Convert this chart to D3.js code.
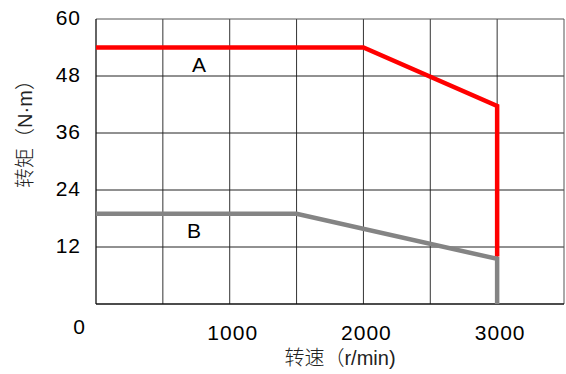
<!DOCTYPE html>
<html>
<head>
<meta charset="utf-8">
<script src="https://cdn.jsdelivr.net/npm/d3@7"></script>
<style>
  html, body { margin: 0; padding: 0; background: #fff; }
  svg { display: block; font-family: "Liberation Sans", Arial, sans-serif; }
</style>
</head>
<body>
<svg id="chart" width="566" height="374"></svg>
<script>
// speed (r/min) vs torque (N·m)
const speedA = [0, 2000, 3000, 3000]
const torqueA = [54, 54, 41.7, 10]
const speedB = [0, 1500, 3000, 3000]
const torqueB = [19, 19, 9.5, 0]
const xGrid = [500, 1000, 1500, 2000, 2500, 3000]
const yGrid = [12, 24, 36, 48]
const xTickLabels = [1000, 2000, 3000]
const yTickLabels = [12, 24, 36, 48, 60]

const svg = d3.select("#chart")
const x = d3.scaleLinear().domain([0, 3500]).range([96, 564])
const y = d3.scaleLinear().domain([0, 60]).range([304, 19])

// grid
const grid = svg.append("g")
grid.selectAll("line.v")
  .data(xGrid)
  .join("line")
  .attr("class", "v")
  .attr("x1", d => x(d)).attr("x2", d => x(d))
  .attr("y1", y(60)).attr("y2", y(0))
  .attr("stroke", "#333").attr("stroke-width", 1)
grid.selectAll("line.h")
  .data(yGrid)
  .join("line")
  .attr("class", "h")
  .attr("x1", x(0)).attr("x2", x(3500))
  .attr("y1", d => y(d)).attr("y2", d => y(d))
  .attr("stroke", "#222").attr("stroke-width", 1)

// frame
svg.append("line")
  .attr("x1", x(0)).attr("x2", x(3500)).attr("y1", y(60)).attr("y2", y(60))
  .attr("stroke", "#555")
svg.append("line")
  .attr("x1", x(3500)).attr("x2", x(3500)).attr("y1", y(60)).attr("y2", y(0))
  .attr("stroke", "#555")
svg.append("line")
  .attr("x1", x(0)).attr("x2", x(0)).attr("y1", y(60)).attr("y2", y(0))
  .attr("stroke", "#111").attr("stroke-width", 1.3)
svg.append("line")
  .attr("x1", x(0)).attr("x2", x(3500)).attr("y1", y(0)).attr("y2", y(0))
  .attr("stroke", "#111").attr("stroke-width", 1.3)

// curves
const line = d3.line().x(d => x(d[0])).y(d => y(d[1]))
svg.append("path")
  .datum(d3.zip(speedA, torqueA))
  .attr("d", line)
  .attr("fill", "none").attr("stroke", "#ff0000").attr("stroke-width", 4.5)
  .attr("stroke-linejoin", "miter")
svg.append("path")
  .datum(d3.zip(speedB, torqueB))
  .attr("d", line)
  .attr("fill", "none").attr("stroke", "#848484").attr("stroke-width", 4.5)
  .attr("stroke-linejoin", "miter")

// curve labels
svg.append("text")
  .attr("x", 199).attr("y", 72)
  .attr("text-anchor", "middle").attr("font-size", 21).attr("fill", "#000")
  .text("A")
svg.append("text")
  .attr("x", 194).attr("y", 238)
  .attr("text-anchor", "middle").attr("font-size", 21).attr("fill", "#000")
  .text("B")

// y tick labels
svg.append("g").selectAll("text")
  .data(yTickLabels)
  .join("text")
  .attr("x", 81).attr("y", d => y(d) - 1.5)
  .attr("text-anchor", "end").attr("dominant-baseline", "central")
  .attr("font-size", 21).attr("letter-spacing", 1).attr("fill", "#000")
  .text(d => d)
svg.append("text")
  .attr("x", 79).attr("y", 326)
  .attr("text-anchor", "middle").attr("dominant-baseline", "central")
  .attr("font-size", 21).attr("fill", "#000")
  .text("0")

// x tick labels
svg.append("g").selectAll("text")
  .data(xTickLabels)
  .join("text")
  .attr("x", d => x(d) + 3).attr("y", 332)
  .attr("text-anchor", "middle").attr("dominant-baseline", "central")
  .attr("font-size", 21).attr("letter-spacing", 1).attr("fill", "#000")
  .text(d => d)

// axis titles
svg.append("text")
  .attr("x", 340).attr("y", 365)
  .attr("text-anchor", "middle")
  .attr("font-family", "'Liberation Sans', 'Noto Sans CJK SC', sans-serif")
  .attr("font-weight", 300)
  .attr("font-size", 20).attr("fill", "#222")
  .text("转速（r/min)")
svg.append("text")
  .attr("transform", "translate(32,129) rotate(-90)")
  .attr("text-anchor", "middle")
  .attr("font-family", "'Liberation Sans', 'Noto Sans CJK SC', sans-serif")
  .attr("font-weight", 300)
  .attr("font-size", 20).attr("fill", "#222")
  .text("转矩（N·m）")
</script>
</body>
</html>
